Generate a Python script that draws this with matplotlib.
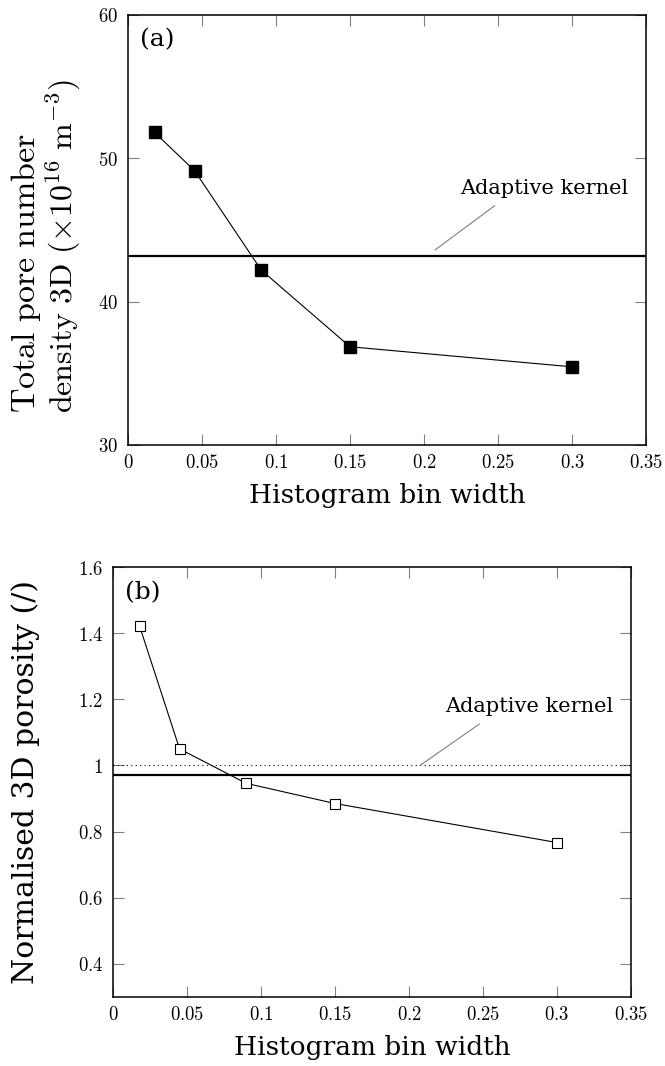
import numpy as np
import matplotlib.pyplot as plt
from matplotlib.ticker import FuncFormatter

plt.rcParams['mathtext.fontset'] = 'cm'

# histogram bin widths used for both estimates
bin_width = [0.018, 0.045, 0.09, 0.15, 0.3]

# (a) total pore number density, x1e16 m^-3
pore_density = [51.8, 49.13, 42.2, 36.85, 35.45]
density_kernel = 43.15

# (b) normalised 3D porosity
porosity = [1.421, 1.05, 0.946, 0.885, 0.767]
porosity_kernel = 0.972
porosity_ref = 1.0

x_ticks = [0, 0.05, 0.1, 0.15, 0.2, 0.25, 0.3, 0.35]
y_ticks_a = [30, 40, 50, 60]
y_ticks_b = [0.4, 0.6, 0.8, 1.0, 1.2, 1.4, 1.6]

txt_font = 'DejaVu Serif'


def cm_fmt(v, pos):
    s = ('%.2f' % v).rstrip('0').rstrip('.')
    return '$%s$' % s


def style_axes(ax):
    for sp in ax.spines.values():
        sp.set_linewidth(1.1)
    ax.tick_params(direction='in', length=8, width=0.8, color='0.5',
                   top=True, right=True, labelsize=13.5, labelcolor='black')
    ax.tick_params(axis='x', pad=6)
    ax.tick_params(axis='y', pad=7)
    ax.xaxis.set_major_formatter(FuncFormatter(cm_fmt))
    ax.yaxis.set_major_formatter(FuncFormatter(cm_fmt))
    ax.set_xlim(0, 0.35)
    ax.set_xticks(x_ticks)
    ax.set_xlabel('Histogram bin width', fontsize=19, family=txt_font, labelpad=8)


def kernel_note(ax, xy, xytext):
    ax.annotate('Adaptive kernel', xy=xy, xytext=xytext,
                fontsize=15, family=txt_font, ha='center', va='center',
                arrowprops=dict(arrowstyle='-', color='0.5', lw=0.8,
                                relpos=(0.27, 0.0), shrinkA=6, shrinkB=0))


fig = plt.figure(figsize=(6.65, 10.66), dpi=100)

# (a)
ax1 = fig.add_axes([0.1925, 0.5826, 0.779, 0.4034])
ax1.axhline(density_kernel, color='black', lw=1.6)
ax1.plot(bin_width, pore_density, color='black', lw=0.8, marker='s',
         markersize=8.5, markerfacecolor='black', markeredgecolor='black')
ax1.set_ylim(30, 60)
ax1.set_yticks(y_ticks_a)
style_axes(ax1)
fig.text(0.039, 0.6126, '$\\mathrm{Total\\ pore\\ number}$', fontsize=24.5,
         rotation=90, ha='center', va='bottom')
fig.text(0.096, 0.6126, '$\\mathrm{density\\ 3D\\ (\\times 10^{16}\\ m^{-3})}$',
         fontsize=23, rotation=90, ha='center', va='bottom')
ax1.text(0.024, 0.968, '(a)', transform=ax1.transAxes, fontsize=18,
         family=txt_font, va='top', ha='left')
kernel_note(ax1, (0.2074, density_kernel + 0.45), (0.281, 47.9))

# (b)
ax2 = fig.add_axes([0.1699, 0.0647, 0.779, 0.4034])
ax2.axhline(porosity_ref, color='black', lw=0.8, ls=(0, (1, 3)))
ax2.axhline(porosity_kernel, color='black', lw=1.6)
ax2.plot(bin_width, porosity, color='black', lw=0.8, marker='s',
         markersize=7.8, markerfacecolor='white', markeredgecolor='black',
         markeredgewidth=0.8)
ax2.set_ylim(0.3, 1.6)
ax2.set_yticks(y_ticks_b)
style_axes(ax2)
ax2.set_ylabel('Normalised 3D porosity (/)', fontsize=21.5, family=txt_font,
               labelpad=27)
ax2.text(0.024, 0.968, '(b)', transform=ax2.transAxes, fontsize=18,
         family=txt_font, va='top', ha='left')
kernel_note(ax2, (0.2074, porosity_ref), (0.281, 1.177))

fig.savefig('out.png', dpi=100)
